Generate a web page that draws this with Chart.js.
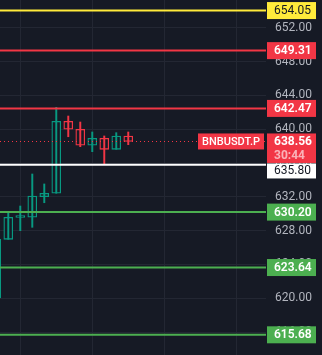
<!DOCTYPE html>
<html><head><meta charset="utf-8">
<script src="https://cdn.jsdelivr.net/npm/chart.js@4.4.1/dist/chart.umd.min.js"></script>
<style>html,body{margin:0;padding:0;background:#161a25;}#w{width:322px;height:355px;}</style>
</head><body><div id="w"><canvas id="c" width="322" height="355"></canvas></div>
<script>
// ---- data ----
const candleIdx = [-1, 0, 1, 2, 3, 4, 5, 6, 7, 8, 9, 10];
const opens  = [620.04, 626.98, 629.56, 629.59, 632.02, 632.43, 640.95, 640.00, 638.11, 638.93, 637.63, 639.21];
const closes = [626.98, 629.59, 629.62, 632.11, 632.43, 640.95, 640.00, 638.11, 638.93, 637.63, 639.21, 638.56];
const highs  = [626.98, 630.06, 630.92, 634.71, 633.53, 642.60, 641.57, 640.86, 639.68, 639.21, 639.60, 639.68];
const lows   = [619.90, 626.98, 628.00, 628.40, 631.31, 632.43, 639.12, 637.94, 637.35, 635.81, 637.63, 638.18];
const levels = [654.05, 649.31, 642.47, 635.80, 630.20, 623.64, 615.68];
const yTicks = [616, 620, 624, 628, 632, 636, 640, 644, 648, 652];
const xGridTicks = [-2, 4, 10, 16, 22];
const symbol = 'BNBUSDT.P';
const lastPrice = 638.56;
const countdown = '30:44';

// ---- styles ----
const BG = '#161a25';
const UP = '#089981', DOWN = '#f23645';
const levelColors = ['#ffeb3b', '#f23645', '#f23645', '#ffffff', '#4caf50', '#4caf50', '#4caf50'];
const levelText = ['#131722', '#ffffff', '#ffffff', '#131722', '#ffffff', '#ffffff', '#ffffff'];
const FONT = 'Roboto, "Liberation Sans", sans-serif';

const colorOf = i => closes[i] >= opens[i] ? UP : DOWN;
const wickData = candleIdx.map((x, i) => ({x, y: [lows[i], highs[i]]}));
const bodyData = candleIdx.map((x, i) => ({x, y: [Math.min(opens[i], closes[i]), Math.max(opens[i], closes[i])]}));

const overlay = {
  id: 'overlay',
  afterDatasetsDraw(chart) {
    const {ctx, chartArea: a, scales: {y}} = chart;
    ctx.save();
    ctx.beginPath(); ctx.rect(a.left, a.top, a.right - a.left, a.bottom - a.top); ctx.clip();
    const ly = Math.round(y.getPixelForValue(lastPrice)) + 0.5;
    ctx.strokeStyle = DOWN; ctx.lineWidth = 1; ctx.setLineDash([1, 3]);
    ctx.beginPath(); ctx.moveTo(a.left, ly); ctx.lineTo(a.right, ly); ctx.stroke();
    ctx.setLineDash([]);
    levels.forEach((v, i) => {
      const py = y.getPixelForValue(v);
      ctx.strokeStyle = levelColors[i]; ctx.lineWidth = 2;
      ctx.beginPath(); ctx.moveTo(a.left, py); ctx.lineTo(a.right, py); ctx.stroke();
    });
    ctx.restore();
  },
  afterDraw(chart) {
    const {ctx, chartArea: a, scales: {y}} = chart;
    ctx.save();
    const bx = a.right + 1, bw = 49, h = 17;
    ctx.textBaseline = 'middle'; ctx.textAlign = 'left';
    const ly = y.getPixelForValue(lastPrice);
    const mTop = ly - 8, mBot = ly + 21.5;
    ctx.fillStyle = DOWN; ctx.fillRect(bx, mTop, bw, mBot - mTop);
    ctx.font = 'bold 12px ' + FONT;
    ctx.fillStyle = '#ffffff'; ctx.fillText(lastPrice.toFixed(2), bx + 7, ly + 0.5);
    ctx.fillStyle = 'rgba(255,255,255,0.62)'; ctx.fillText(countdown, bx + 7, ly + 14.5);
    ctx.font = '500 11px ' + FONT;
    const sw = ctx.measureText(symbol).width + 8;
    ctx.fillStyle = DOWN; ctx.fillRect(a.right - 2 - sw, ly - 8, sw, 16);
    ctx.fillStyle = '#ffffff'; ctx.fillText(symbol, a.right - 2 - sw + 4, ly + 0.5);
    levels.forEach((v, i) => {
      const py = y.getPixelForValue(v);
      let top = py - h / 2, hh = h;
      if (top < mBot && top + h > mTop) { top = mBot + 0.5; hh = h - 2; }
      ctx.fillStyle = levelColors[i]; ctx.fillRect(bx, top, bw, hh);
      ctx.font = (levelText[i] === '#ffffff' ? '600 ' : '') + '12px ' + FONT;
      ctx.fillStyle = levelText[i]; ctx.fillText(v.toFixed(2), bx + 7, top + hh / 2 + 0.5);
    });
    ctx.restore();
  }
};

new Chart(document.getElementById('c'), {
  type: 'bar',
  data: {
    datasets: [
      {data: wickData, backgroundColor: candleIdx.map((_, i) => colorOf(i)), barThickness: 1.3, grouped: false, borderWidth: 0},
      {data: bodyData, backgroundColor: BG, borderColor: candleIdx.map((_, i) => colorOf(i)), borderWidth: 1.3, barThickness: 9, grouped: false, minBarLength: 2, borderSkipped: false}
    ]
  },
  options: {
    responsive: false, animation: false, devicePixelRatio: 1,
    layout: {padding: 0},
    plugins: {legend: {display: false}, tooltip: {enabled: false}},
    scales: {
      x: {
        type: 'linear', min: -0.69, max: 21.48, offset: false,
        afterBuildTicks: s => { s.ticks = xGridTicks.map(v => ({value: v})); },
        afterFit: s => { s.height = 0; s.paddingLeft = 0; s.paddingRight = 0; },
        ticks: {display: false},
        grid: {color: '#232733', drawTicks: false},
        border: {display: false}
      },
      y: {
        position: 'right', min: 613.29, max: 655.30,
        afterBuildTicks: s => { s.ticks = yTicks.map(v => ({value: v})); },
        afterFit: s => { s.width = 56; s.paddingTop = 0; s.paddingBottom = 0; },
        ticks: {color: '#b2b5be', padding: 9, font: {family: FONT, size: 12}, callback: v => Number(v).toFixed(2)},
        grid: {color: '#232733', drawTicks: false},
        border: {display: false}
      }
    }
  },
  plugins: [overlay, {id: 'bg', beforeDraw(c) { const x = c.ctx; x.save(); x.fillStyle = BG; x.fillRect(0, 0, c.width, c.height); x.restore(); }}]
});
</script></body></html>
